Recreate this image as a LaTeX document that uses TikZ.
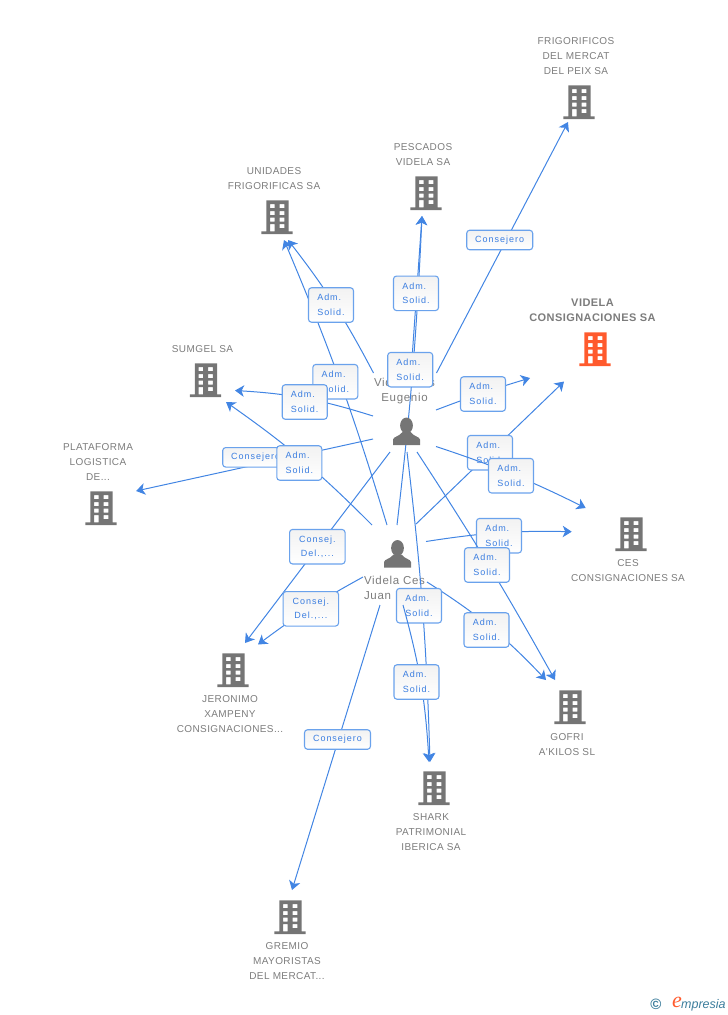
\documentclass[tikz,border=0pt]{standalone}
\usepackage{fontspec}
\usetikzlibrary{arrows.meta}
\newfontfamily\firmfont[LetterSpace=4]{Liberation Sans}
\newfontfamily\hubfont[LetterSpace=6]{Liberation Sans}
\newfontfamily\tagfont[LetterSpace=11]{Liberation Sans}
\newfontfamily\brandfont{Liberation Sans}
\newfontfamily\brandserif{Liberation Serif}
\definecolor{linkblue}{HTML}{4285E3}
\definecolor{tagline}{HTML}{6AA2EC}
\definecolor{tagtext}{HTML}{3A7DE0}
\definecolor{tagtop}{HTML}{F2F2F2}
\definecolor{firmgray}{HTML}{757575}
\definecolor{textgray}{HTML}{7C7C7C}
\definecolor{firmorange}{HTML}{FF5A2D}
\definecolor{brandblue}{HTML}{3C7D9C}
\tikzset{
  link/.style={draw=linkblue,line width=1pt,-{Stealth[length=9pt,width=11.5pt,inset=2.5pt]}},
  hub/.style={inner sep=0pt,minimum width=27pt,minimum height=27pt},
  firm/.style={inner sep=0pt,minimum width=32pt,minimum height=34pt},
  hubname/.style={inner sep=0pt,text=textgray,align=left,font=\hubfont\fontsize{11.5}{15}\selectfont},
  firmname/.style={inner sep=0pt,text=textgray,align=center,font=\firmfont\fontsize{10}{15}\selectfont},
  tag/.style={draw=tagline,line width=1.1pt,rounded corners=3pt,top color=tagtop,bottom color=white,
    inner sep=0pt,minimum width=45pt,minimum height=34.5pt,text=tagtext,align=left,
    font=\tagfont\fontsize{9}{14.7}\selectfont},
  tagdel/.style={tag,minimum width=55.5pt,align=center},
  tagwide/.style={tag,minimum width=66pt,minimum height=19.5pt},
  office/.pic={
    \fill[pic actions,even odd rule]
      (-7.7,-16.7) rectangle (14.7,14.3) (-12.7,14.3) rectangle (18.7,17)
      (-4,-13) rectangle (.7,-9) (5.7,-13) rectangle (10.3,-9)
      (-4,-6) rectangle (.7,-2) (5.7,-6) rectangle (10.3,-2)
      (-4,.5) rectangle (.7,4.5) (5.7,.5) rectangle (10.3,4.5)
      (-4,7) rectangle (.7,14.3) (5.7,7) rectangle (10.3,11);
  },
  person/.pic={
    \fill[firmgray] (0,-5.5) ellipse (6.4 and 8);
    \fill[firmgray] (-13.5,14) -- (-13.5,8.5) .. controls (-13,5.5) and (-7,5.5) .. (-4,1)
      -- (4,1) .. controls (7,5.5) and (13,5.5) .. (13.5,8.5) -- (13.5,14) -- cycle;
  }
}
\begin{document}
\begin{tikzpicture}[x=1pt,y=-1pt]
\useasboundingbox (0,0) rectangle (728,1015);
% people
\node[hub] (eugenio) at (406.5,431) {};
\node[hub] (juan) at (397.5,553.5) {};
\node[hubname,align=center] (eugenioname) at (404.5,391) {Videla Ces\\Eugenio};
\node[hubname] (juanname) at (394.5,587.5) {Videla Ces\\Juan};
% firms
\node[firm] (frig) at (576,102) {};
\node[firm] (pescados) at (423,193) {};
\node[firm] (unidades) at (274,217) {};
\node[firm] (videla) at (592,349) {};
\node[firm] (sumgel) at (202.5,380) {};
\node[firm] (plataforma) at (98,508) {};
\node[firm] (ces) at (628,534) {};
\node[firm] (jeronimo) at (230,670) {};
\node[firm] (gofri) at (567,707) {};
\node[firm] (shark) at (431,788) {};
\node[firm] (gremio) at (287,917) {};
\node[firmname] (frigname) at (576,56) {FRIGORIFICOS\\DEL MERCAT\\DEL PEIX SA};
\node[firmname] (pescadosname) at (423,154.5) {PESCADOS\\VIDELA SA};
\node[firmname] (unidadesname) at (274,178.5) {UNIDADES\\FRIGORIFICAS SA};
\node[firmname,font=\firmfont\bfseries\fontsize{11}{15}\selectfont] (videlaname) at (592.5,310.5) {VIDELA\\CONSIGNACIONES SA};
\node[firmname] (sumgelname) at (202.5,349) {SUMGEL SA};
\node[firmname] (plataformaname) at (98,462) {PLATAFORMA\\LOGISTICA\\DE...};
\node[firmname] (cesname) at (628,570.5) {CES\\CONSIGNACIONES SA};
\node[firmname] (jeronimoname) at (230,714) {JERONIMO\\XAMPENY\\CONSIGNACIONES...};
\node[firmname] (gofriname) at (567,744.5) {GOFRI\\A'KILOS SL};
\node[firmname] (sharkname) at (431,832) {SHARK\\PATRIMONIAL\\IBERICA SA};
\node[firmname] (gremioname) at (287,961) {GREMIO\\MAYORISTAS\\DEL MERCAT...};
% links
\draw[link] ([shift={(30,-58)}]eugenio.center) -- ([shift={(-8,20)}]frig.center);
\draw[link] ([shift={(-.5,-28.5)}]juan.center) to[bend right=2] ([shift={(-1,23)}]pescados.center);
\draw[link] ([shift={(4.5,-58)}]eugenio.center) -- ([shift={(-1,23)}]pescados.center);
\draw[link] ([shift={(-33,-58)}]eugenio.center) to[bend right=5] ([shift={(14,23)}]unidades.center);
\draw[link] ([shift={(-10.5,-28.5)}]juan.center) to[bend right=3] ([shift={(10,23)}]unidades.center);
\draw[link] ([shift={(29.5,-21)}]eugenio.center) to[bend left=2] ([shift={(-62,29)}]videla.center);
\draw[link] ([shift={(18.5,-29.5)}]juan.center) -- ([shift={(-28,32.5)}]videla.center);
\draw[link] ([shift={(-33.5,-15)}]eugenio.center) to[bend right=7] ([shift={(32.5,10.5)}]sumgel.center);
\draw[link] ([shift={(-25.5,-28.5)}]juan.center) to[bend right=5] ([shift={(23.5,22)}]sumgel.center);
\draw[link] ([shift={(-33.5,8)}]eugenio.center) -- ([shift={(38,-17)}]plataforma.center);
\draw[link] ([shift={(28.5,-12)}]juan.center) to[bend left=5] ([shift={(-56.3,-2.3)}]ces.center);
\draw[link] ([shift={(29.5,28.5)}]juan.center) to[bend left=7] ([shift={(-21,-27)}]gofri.center);
\draw[link] ([shift={(.5,21)}]eugenio.center) to[bend left=2.5] ([shift={(-1,-26)}]shark.center);
\draw[link] ([shift={(-16.5,21)}]eugenio.center) -- ([shift={(15,-27)}]jeronimo.center);
\draw[link] ([shift={(-34.5,23.5)}]juan.center) to[bend right=4] ([shift={(28,-25.5)}]jeronimo.center);
\draw[link] ([shift={(-17.5,51.5)}]juan.center) -- ([shift={(5,-27)}]gremio.center);
% labels of the links
\node[tagwide] (tagfrig) at (499.7,240) {Consejero};
\node[tag] (tagpescadosa) at (416,293.3) {Adm.\\Solid.};
\node[tag] (tagpescadosb) at (410.2,369.7) {Adm.\\Solid.};
\node[tag] (tagunidadesa) at (331,305) {Adm.\\Solid.};
\node[tag] (tagunidadesb) at (335.3,381.7) {Adm.\\Solid.};
\node[tag] (tagvidelaa) at (483,394) {Adm.\\Solid.};
\node[tag] (tagvidelab) at (490,452.7) {Adm.\\Solid.};
\node[tag] (tagcesb) at (499,535.7) {Adm.\\Solid.};
\node[tag] (taggofrib) at (486.5,630) {Adm.\\Solid.};
\node[tag] (tagsharka) at (419,605.7) {Adm.\\Solid.};
\node[tagwide] (tagplataforma) at (255.7,457.3) {Consejero};
\node[tagdel] (tagjeronimoa) at (317.3,546.7) {Consej.\\Del.,...};
\node[tagdel] (tagjeronimob) at (310.8,608.8) {Consej.\\Del.,...};
\node[tagwide] (taggremio) at (337.5,739.5) {Consejero};
% these run over the labels above
\draw[link] ([shift={(29.5,15.5)}]eugenio.center) to[bend left=4] ([shift={(-42.3,-26)}]ces.center);
\draw[link] ([shift={(10.5,21)}]eugenio.center) to[bend left=2] ([shift={(-12,-27)}]gofri.center);
\draw[link] ([shift={(5.5,51.5)}]juan.center) to[bend left=6] ([shift={(-2,-26)}]shark.center);
\node[tag] (tagcesa) at (511,475.7) {Adm.\\Solid.};
\node[tag] (taggofria) at (487,565) {Adm.\\Solid.};
\node[tag] (tagsharkb) at (416.5,682) {Adm.\\Solid.};
\node[tag] (tagsumgela) at (304.7,402) {Adm.\\Solid.};
\node[tag] (tagsumgelb) at (299.3,463) {Adm.\\Solid.};
% icons
\foreach \f in {frig,pescados,unidades,sumgel,plataforma,ces,jeronimo,gofri,shark,gremio}
  \pic[fill=firmgray] at (\f) {office};
\pic[fill=firmorange] at (videla) {office};
\pic at (eugenio) {person};
\pic at (juan) {person};
% corner mark
\node[inner sep=0pt,text=brandblue,font=\brandfont\bfseries\fontsize{15}{15}\selectfont] (copymark) at (656,1004) {\char"00A9};
\node[inner sep=0pt,text=firmorange,font=\brandserif\itshape\fontsize{22}{22}\selectfont] (brande) at (677,1002) {e};
\node[inner sep=0pt,anchor=west,text=brandblue,font=\brandfont\itshape\fontsize{12.5}{13}\selectfont] (brandrest) at (681,1005) {mpresia};
\end{tikzpicture}
\end{document}
